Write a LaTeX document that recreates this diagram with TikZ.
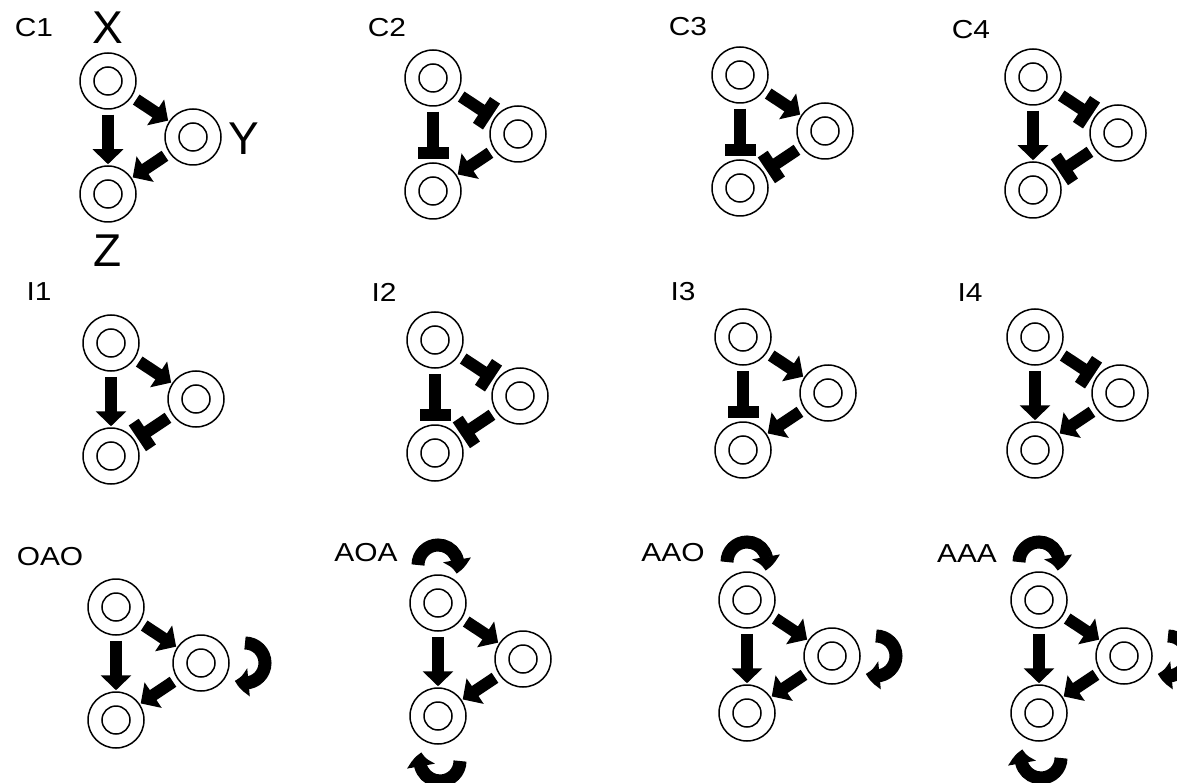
\documentclass[tikz,border=0pt]{standalone}
\usepackage{fontspec}
\setmainfont{Liberation Sans}
\usetikzlibrary{arrows.meta,bending}
\newcommand\motif[6]{%
  \node[gene] (#1x) at (#2,-#3) {};
  \node[gene] (#1y) at ([shift={(85,-56)}]#1x.center) {};
  \node[gene] (#1z) at ([shift={(0,-113)}]#1x.center) {};
  \draw[innerc] (#1x.center) circle[radius=14];
  \draw[innerc] (#1y.center) circle[radius=14];
  \draw[innerc] (#1z.center) circle[radius=14];
  \draw[#4] (#1x) -- (#1y);
  \draw[#5] (#1x) -- (#1z);
  \draw[#6] (#1y) -- (#1z);
}
\newcommand\looptop[1]{\draw[selfloop] ([shift={(-20,38)}]#1.center) arc[start angle=180,end angle=-25,radius=20];}
\newcommand\loopright[1]{\draw[selfloop] ([shift={(44,20)}]#1.center) arc[start angle=90,end angle=-120,radius=20];}
\newcommand\loopbottom[1]{\draw[selfloop] ([shift={(22,-45)}]#1.center) arc[start angle=0,end angle=-205,radius=20];}
\begin{document}
\begin{tikzpicture}[x=1pt,y=1pt,
  gene/.style={circle,draw,line width=1.5pt,minimum size=56pt,inner sep=0pt},
  innerc/.style={line width=1.5pt},
  act/.style={line width=12pt,-{Triangle[width=30pt,length=15pt]},shorten <=5pt,shorten >=1pt},
  inh/.style={line width=12pt,-{Rectangle[width=31pt,length=12pt]},shorten <=5pt,shorten >=3pt},
  selfloop/.style={line width=13pt,-{Triangle[width=27pt,length=14pt,bend]}},
  lab/.style={font=\fontsize{26}{30}\selectfont,inner sep=0pt},
  big/.style={font=\fontsize{46}{50}\selectfont,inner sep=0pt}]
\useasboundingbox (0,0) rectangle (1177,-783);
\clip (0,0) rectangle (1177,-783);
% labels
\node[lab] (lC1) at (34,-28) {\scalebox{1.15}[1]{C1}};
\node[lab] (lC2) at (387,-28) {\scalebox{1.15}[1]{C2}};
\node[lab] (lC3) at (688,-27) {\scalebox{1.15}[1]{C3}};
\node[lab] (lC4) at (971,-30) {\scalebox{1.15}[1]{C4}};
\node[lab] (lI1) at (39,-292) {\scalebox{1.15}[1]{I1}};
\node[lab] (lI2) at (384,-292) {\scalebox{1.15}[1]{I2}};
\node[lab] (lI3) at (683,-292) {\scalebox{1.15}[1]{I3}};
\node[lab] (lI4) at (970,-293) {\scalebox{1.15}[1]{I4}};
\node[lab] (lOAO) at (50,-557) {\scalebox{1.15}[1]{OAO}};
\node[lab] (lAOA) at (366,-553) {\scalebox{1.15}[1]{AOA}};
\node[lab] (lAAO) at (673,-553) {\scalebox{1.15}[1]{AAO}};
\node[lab] (lAAA) at (967,-554) {\scalebox{1.15}[1]{AAA}};
\node[big] (lX) at (108,-28) {X};
\node[big] (lY) at (244,-139) {Y};
\node[big] (lZ) at (108,-251) {Z};
% motifs
\motif{ca}{108}{81}{act}{act}{act}
\motif{cb}{433}{78}{inh}{inh}{act}
\motif{cc}{740}{75}{act}{inh}{inh}
\motif{cd}{1033}{77}{inh}{act}{inh}
\motif{ia}{111}{343}{act}{act}{inh}
\motif{ib}{435}{340}{inh}{inh}{inh}
\motif{ic}{743}{337}{act}{inh}{act}
\motif{id}{1035}{337}{inh}{act}{act}
\motif{oa}{116}{607}{act}{act}{act}
\motif{ob}{438}{603}{act}{act}{act}
\motif{oc}{747}{600}{act}{act}{act}
\motif{od}{1039}{600}{act}{act}{act}
% self loops
\loopright{oay}
\looptop{obx}
\loopbottom{obz}
\looptop{ocx}
\loopright{ocy}
\looptop{odx}
\loopright{ody}
\loopbottom{odz}
\end{tikzpicture}
\end{document}
